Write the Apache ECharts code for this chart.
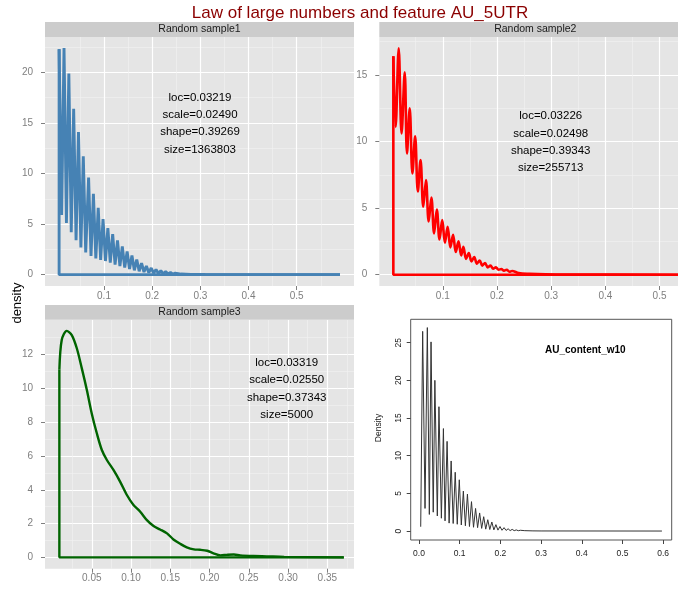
<!DOCTYPE html>
<html>
<head>
<meta charset="utf-8">
<title>Law of large numbers and feature AU_5UTR</title>
<script src="https://cdn.jsdelivr.net/npm/echarts@6/dist/echarts.min.js"></script>
<style>
  html, body { margin: 0; padding: 0; background: #fff; }
  #chart { width: 678px; height: 590px; }
</style>
</head>
<body>
<div id="chart"></div>
<script>
// Density outlines (peaks / troughs of the curves)
const sample1X = [0.0068, 0.012, 0.017, 0.022, 0.027, 0.032, 0.037, 0.042, 0.047, 0.052, 0.057, 0.062, 0.068, 0.073, 0.078, 0.083, 0.088, 0.093, 0.098, 0.103, 0.108, 0.113, 0.118, 0.123, 0.128, 0.133, 0.138, 0.143, 0.148, 0.153, 0.158, 0.163, 0.168, 0.173, 0.178, 0.183, 0.188, 0.193, 0.198, 0.203, 0.208, 0.213, 0.218, 0.223, 0.228, 0.233, 0.238, 0.243, 0.248, 0.26, 0.28, 0.31, 0.59];
const sample1Y = [22.3, 5.9, 22.4, 5.1, 19.9, 4.2, 16.4, 3.4, 14.1, 2.7, 11.7, 2.2, 9.6, 1.85, 8.0, 1.6, 6.6, 1.45, 5.5, 1.35, 4.6, 1.2, 4.0, 1.0, 3.4, 0.85, 2.8, 0.7, 2.3, 0.55, 1.9, 0.43, 1.5, 0.33, 1.15, 0.26, 0.85, 0.2, 0.66, 0.15, 0.52, 0.12, 0.4, 0.09, 0.3, 0.07, 0.22, 0.05, 0.15, 0.06, 0.03, 0.01, 0];

const sample2X = [0.0088, 0.013, 0.0187, 0.024, 0.0298, 0.034, 0.039, 0.044, 0.049, 0.054, 0.059, 0.064, 0.069, 0.074, 0.079, 0.084, 0.089, 0.094, 0.099, 0.104, 0.109, 0.114, 0.119, 0.124, 0.129, 0.134, 0.138, 0.143, 0.148, 0.153, 0.158, 0.163, 0.168, 0.173, 0.178, 0.183, 0.188, 0.193, 0.198, 0.203, 0.208, 0.213, 0.218, 0.223, 0.228, 0.24, 0.26, 0.29, 0.33, 0.545];
const sample2Y = [16.4, 11.1, 17.0, 10.6, 15.2, 9.1, 12.5, 7.6, 10.4, 6.25, 8.6, 5.1, 7.1, 4.0, 5.8, 3.1, 4.9, 2.65, 4.1, 2.4, 3.6, 2.05, 3.0, 1.7, 2.5, 1.45, 2.1, 1.18, 1.63, 1.0, 1.33, 0.83, 1.07, 0.68, 0.88, 0.55, 0.68, 0.45, 0.55, 0.37, 0.43, 0.3, 0.37, 0.22, 0.28, 0.12, 0.06, 0.02, 0.005, 0];

const sample3X = [0.0087, 0.0117, 0.0181, 0.0245, 0.0309, 0.0373, 0.0437, 0.05, 0.0564, 0.0628, 0.0692, 0.0776, 0.0862, 0.0947, 0.1031, 0.1117, 0.1202, 0.1287, 0.137, 0.1458, 0.154, 0.163, 0.171, 0.18, 0.188, 0.197, 0.205, 0.214, 0.222, 0.231, 0.239, 0.256, 0.273, 0.295, 0.371];
const sample3Y = [11.1, 12.86, 13.4, 13.15, 12.37, 11.18, 9.9, 8.5, 7.34, 6.35, 5.76, 5.17, 4.47, 3.69, 3.1, 2.7, 2.2, 1.85, 1.65, 1.42, 1.06, 0.79, 0.59, 0.47, 0.45, 0.39, 0.24, 0.12, 0.15, 0.17, 0.12, 0.08, 0.06, 0.03, 0];

const auContentX = [0.0042, 0.009, 0.0148, 0.0205, 0.0254, 0.0296, 0.035, 0.039, 0.045, 0.049, 0.055, 0.060, 0.064, 0.069, 0.074, 0.079, 0.084, 0.089, 0.094, 0.099, 0.104, 0.109, 0.114, 0.119, 0.124, 0.129, 0.134, 0.139, 0.144, 0.149, 0.154, 0.159, 0.164, 0.169, 0.174, 0.179, 0.184, 0.189, 0.194, 0.199, 0.204, 0.209, 0.214, 0.219, 0.224, 0.229, 0.234, 0.239, 0.244, 0.249, 0.26, 0.28, 0.30, 0.597];
const auContentY = [0.57, 26.5, 3.0, 27.0, 2.2, 25.1, 2.5, 20.0, 2.0, 16.5, 1.7, 13.6, 1.35, 11.9, 1.05, 9.3, 1.0, 7.8, 0.9, 6.8, 0.8, 5.3, 0.7, 4.9, 0.6, 3.9, 0.5, 3.0, 0.45, 2.4, 0.35, 1.9, 0.25, 1.5, 0.2, 1.2, 0.15, 0.85, 0.12, 0.6, 0.1, 0.45, 0.08, 0.3, 0.06, 0.22, 0.05, 0.15, 0.04, 0.1, 0.05, 0.02, 0.01, 0];

// Tick values (major / minor grid lines)
const sample1XTicks = [0.1, 0.2, 0.3, 0.4, 0.5];
const sample1XMinor = [0.05, 0.15, 0.25, 0.35, 0.45, 0.55];
const sample1YTicks = [0, 5, 10, 15, 20];
const sample1YMinor = [2.5, 7.5, 12.5, 17.5, 22.5];
const sample2XTicks = [0.1, 0.2, 0.3, 0.4, 0.5];
const sample2XMinor = [0.05, 0.15, 0.25, 0.35, 0.45];
const sample2YTicks = [0, 5, 10, 15];
const sample2YMinor = [2.5, 7.5, 12.5, 17.5];
const sample3XTicks = [0.05, 0.10, 0.15, 0.20, 0.25, 0.30, 0.35];
const sample3XMinor = [0.025, 0.075, 0.125, 0.175, 0.225, 0.275, 0.325, 0.375];
const sample3YTicks = [0, 2, 4, 6, 8, 10, 12];
const sample3YMinor = [1, 3, 5, 7, 9, 11, 13];
const auXTicks = [0, 0.1, 0.2, 0.3, 0.4, 0.5, 0.6];
const auYTicks = [0, 5, 10, 15, 20, 25];

// Texts
const titleText = 'Law of large numbers and feature AU_5UTR';
const stripNames = ['Random sample1', 'Random sample2', 'Random sample3'];
const sample1Notes = ['loc=0.03219', 'scale=0.02490', 'shape=0.39269', 'size=1363803'];
const sample2Notes = ['loc=0.03226', 'scale=0.02498', 'shape=0.39343', 'size=255713'];
const sample3Notes = ['loc=0.03319', 'scale=0.02550', 'shape=0.37343', 'size=5000'];

const FONT = "'Liberation Sans', Arial, sans-serif";
const GREY50 = '#7F7F7F';

// ggplot-like panels: plot box and (expanded) axis ranges
// panel 2 is cut off by the right edge of the picture
const ggPanels = [
  { box: { left: 45, top: 37, width: 309, height: 249 }, xr: [-0.0225, 0.619], yr: [-1.12, 23.5],
    xt: sample1XTicks, xm: sample1XMinor, yt: sample1YTicks, ym: sample1YMinor, xfmt: v => String(v) },
  { box: { left: 379.3, top: 37, right: 0, height: 249 }, xr: [-0.0171, 0.534], yr: [-0.85, 17.85],
    xt: sample2XTicks, xm: sample2XMinor, yt: sample2YTicks, ym: sample2YMinor, xfmt: v => String(v) },
  { box: { left: 45, top: 319.7, width: 309, height: 249 }, xr: [-0.0096, 0.384], yr: [-0.67, 14.06],
    xt: sample3XTicks, xm: sample3XMinor, yt: sample3YTicks, ym: sample3YMinor, xfmt: v => v.toFixed(2) },
];

const pairs = (xs, ys) => xs.map((x, i) => [x, ys[i]]);

const grids = [];
const xAxes = [];
const yAxes = [];

const majorAxis = (gridIndex, range, ticks, isX, fmt) => ({
  type: 'value', gridIndex, min: range[0], max: range[1],
  axisLine: { show: false, onZero: false },
  axisTick: { show: true, customValues: ticks, length: 4, lineStyle: { color: GREY50, width: 1 } },
  axisLabel: { customValues: ticks, color: GREY50, fontSize: 10, fontFamily: FONT,
    margin: isX ? 5 : 12, formatter: fmt },
  splitLine: { show: true, lineStyle: { color: '#FFFFFF', width: 1.2 } },
});
const minorAxis = (gridIndex, range, ticks) => ({
  type: 'value', gridIndex, min: range[0], max: range[1],
  axisLine: { show: false, onZero: false },
  axisTick: { show: false, customValues: ticks },
  axisLabel: { show: false },
  splitLine: { show: true, lineStyle: { color: '#F2F2F2', width: 0.6 } },
});

ggPanels.forEach((p, i) => {
  grids.push({ ...p.box, show: true, backgroundColor: '#E5E5E5', borderWidth: 0 });
  xAxes.push(majorAxis(i, p.xr, p.xt, true, p.xfmt), minorAxis(i, p.xr, p.xm));
  yAxes.push(majorAxis(i, p.yr, p.yt, false, v => String(v)), minorAxis(i, p.yr, p.ym));
});

// base-R style panel
grids.push({ left: 410.7, top: 319.3, width: 261, height: 220.7, show: true,
  backgroundColor: 'transparent', borderColor: '#555', borderWidth: 1 });
const rAxis = (range, ticks, isX) => ({
  type: 'value', gridIndex: 3, min: range[0], max: range[1],
  axisLine: { show: false, onZero: false },
  axisTick: { show: true, customValues: ticks, length: 4, lineStyle: { color: '#444' } },
  axisLabel: { customValues: ticks, color: '#222', fontSize: 8.5, fontFamily: FONT,
    margin: isX ? 9 : 8, rotate: isX ? 0 : 90, formatter: isX ? (v => v.toFixed(1)) : (v => String(v)) },
  splitLine: { show: false },
});
xAxes.push(rAxis([-0.0204, 0.621], auXTicks, true));
yAxes.push(rAxis([-1.19, 28.1], auYTicks, false));

const line = (ai, data, color, width, smooth) => ({
  type: 'line', xAxisIndex: ai, yAxisIndex: ai, data, showSymbol: false, symbol: 'none',
  smooth: smooth || false, lineStyle: { color, width }, z: 3,
});
// geom_density outline: the curve plus the closing baseline and left edge
const densityOutline = (ai, xs, ys, color, width, smooth) => [
  line(ai, pairs(xs, ys), color, width, smooth),
  line(ai, [[xs[xs.length - 1], 0], [xs[0], 0], [xs[0], ys[0]]], color, width, false),
];

const series = [
  ...densityOutline(0, sample1X, sample1Y, '#4682B4', 2.9, false),
  ...densityOutline(2, sample2X, sample2Y, '#FF0000', 2.6, 0.35),
  ...densityOutline(4, sample3X, sample3Y, '#006400', 2.4, 0.3),
  line(6, pairs(auContentX, auContentY), '#333333', 1, false),
];

const strip = (x, y, w, h, text) => [
  { type: 'rect', z: 10, shape: { x, y, width: w, height: h }, style: { fill: '#CCCCCC' }, silent: true },
  { type: 'text', z: 11, x: x + w / 2, y: y + h / 2,
    style: { text, fill: '#1A1A1A', font: `10.5px ${FONT}`, align: 'center', verticalAlign: 'middle' } },
];
const notes = (x, y, lines) => ({
  type: 'text', z: 20, x, y,
  style: { text: lines.join('\n'), fill: '#000', font: `11.5px ${FONT}`, lineHeight: 17.3,
    align: 'center', verticalAlign: 'middle' },
});

const graphic = [
  { type: 'text', z: 20, x: 360, y: 13,
    style: { text: titleText, fill: '#8B0000', font: `17px ${FONT}`, align: 'center', verticalAlign: 'middle' } },
  ...strip(45, 22, 309, 15, stripNames[0]),
  ...strip(379.3, 22, 312, 15, stripNames[1]),
  ...strip(45, 305, 309, 14.7, stripNames[2]),
  notes(200, 123.5, sample1Notes),
  notes(550.7, 142, sample2Notes),
  notes(286.7, 388.7, sample3Notes),
  { type: 'text', z: 20, x: 17, y: 303, rotation: Math.PI / 2,
    style: { text: 'density', fill: '#000', font: `13px ${FONT}`, align: 'center', verticalAlign: 'middle' } },
  { type: 'text', z: 20, x: 379, y: 428, rotation: Math.PI / 2,
    style: { text: 'Density', fill: '#222', font: `8.5px ${FONT}`, align: 'center', verticalAlign: 'middle' } },
  { type: 'text', z: 20, x: 585.3, y: 350,
    style: { text: 'AU_content_w10', fill: '#000', font: `bold 10px ${FONT}`, align: 'center', verticalAlign: 'middle' } },
];

const chart = echarts.init(document.getElementById('chart'));
chart.setOption({
  backgroundColor: '#FFFFFF',
  animation: false,
  grid: grids,
  xAxis: xAxes,
  yAxis: yAxes,
  series,
  graphic,
});
</script>
</body>
</html>
